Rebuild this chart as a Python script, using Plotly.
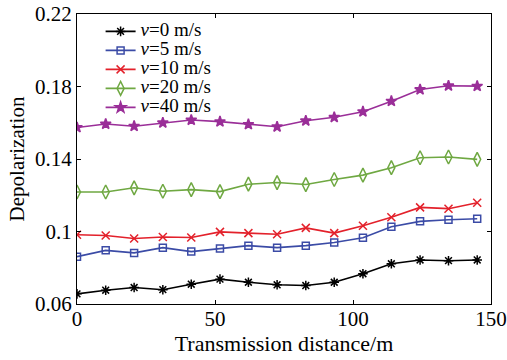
import plotly.graph_objects as go

distance = [0, 10.4, 20.7, 31.1, 41.4, 51.8, 62.1, 72.5, 82.9, 93.2, 103.6, 113.9, 124.3, 134.6, 145]
v0 = [0.0656, 0.0676, 0.0691, 0.0679, 0.0709, 0.0737, 0.0720, 0.0706, 0.0702, 0.0720, 0.0767, 0.0822, 0.0843, 0.0839, 0.0843]
v5 = [0.0861, 0.0896, 0.0882, 0.0911, 0.0889, 0.0906, 0.0922, 0.0911, 0.0922, 0.0939, 0.0965, 0.1026, 0.1056, 0.1065, 0.1070]
v10 = [0.0982, 0.0978, 0.0961, 0.0970, 0.0967, 0.0998, 0.0991, 0.0985, 0.1020, 0.0991, 0.1032, 0.1079, 0.1133, 0.1126, 0.1159]
v20 = [0.1218, 0.1218, 0.1241, 0.1222, 0.1231, 0.1220, 0.1261, 0.1270, 0.1259, 0.1287, 0.1311, 0.1352, 0.1407, 0.1411, 0.1398]
v40 = [0.1574, 0.1593, 0.1581, 0.1600, 0.1615, 0.1606, 0.1591, 0.1578, 0.1611, 0.1630, 0.1661, 0.1719, 0.1783, 0.1804, 0.1802]

names = ["v=0 m/s", "v=5 m/s", "v=10 m/s", "v=20 m/s", "v=40 m/s"]
colors = ["#000000", "#3b4ba6", "#e3212b", "#6fa842", "#9a2e98"]
symbols = ["asterisk-open", "square-open", "x-thin-open", "diamond-tall-open", "star"]
sizes = [8, 7, 8, 10, 8]

yticks = [0.06, 0.1, 0.14, 0.18, 0.22]
ytick_text = ["0.06", "0.1", "0.14", "0.18", "0.22"]
xticks = [0, 50, 100, 150]

def legend_label(n):
    v, rest = n.split("=", 1)
    return '<span style="font-size:19px"><i>%s</i>=%s</span>' % (v, rest)

fig = go.Figure()
for ys, n, c, s, sz in zip([v0, v5, v10, v20, v40], names, colors, symbols, sizes):
    fig.add_trace(go.Scatter(
        x=distance, y=ys, name=legend_label(n), mode="lines+markers",
        line=dict(color=c, width=1.6),
        marker=dict(symbol=s, size=sz, color=c, line=dict(color=c, width=1.5)),
    ))

font = "Liberation Serif, Times New Roman, serif"
fig.update_layout(
    width=507, height=360,
    margin=dict(l=77, r=16, t=14, b=56, autoexpand=False),
    paper_bgcolor="white", plot_bgcolor="white",
    font=dict(family=font, size=21, color="black"),
    showlegend=True,
    legend=dict(x=0.057, y=0.99, xanchor="left", yanchor="top",
                bgcolor="rgba(0,0,0,0)", font=dict(size=11, family=font),
                tracegroupgap=0, itemsizing="trace"),
    xaxis=dict(range=[0, 150], tickvals=xticks, showgrid=False, zeroline=False,
               showline=True, linecolor="black", linewidth=1, mirror="ticks",
               ticks="inside", ticklen=4, tickcolor="black", automargin=False,
               ticklabeloverflow="allow", ticklabelstandoff=-4,
               title=dict(text="Transmission distance/m", standoff=5, font=dict(size=22))),
    yaxis=dict(range=[0.06, 0.22], tickvals=yticks, ticktext=ytick_text, showgrid=False, zeroline=False,
               showline=True, linecolor="black", linewidth=1, mirror="ticks",
               ticks="inside", ticklen=4, tickcolor="black", automargin=False,
               ticklabeloverflow="allow",
               title=dict(text="Depolarization", standoff=4, font=dict(size=21))),
)

# remove the default 8px page margin so the figure fills the window exactly
fig.write_html("out.html", config={"displayModeBar": False},
               post_script="document.body.style.margin='0';")
